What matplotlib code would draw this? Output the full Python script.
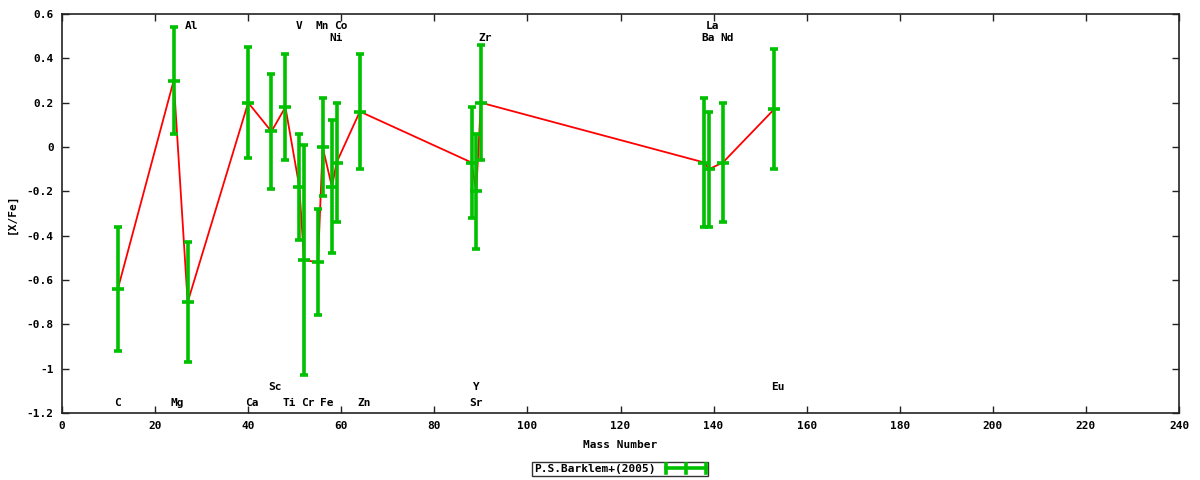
import matplotlib
matplotlib.use("Agg")
import matplotlib.pyplot as plt
import matplotlib.transforms as mtransforms
from matplotlib.legend_handler import HandlerBase
from matplotlib.lines import Line2D

# abundance data, [X/Fe] vs mass number
elements = ["C", "Mg", "Al", "Ca", "Sc", "Ti", "V", "Cr", "Mn", "Fe",
            "Ni", "Co", "Zn", "Sr", "Y", "Zr", "Ba", "La", "Nd", "Eu"]
mass = [12, 24, 27, 40, 45, 48, 51, 52, 55, 56,
        58, 59, 64, 88, 89, 90, 138, 139, 142, 153]
xfe = [-0.64, 0.30, -0.70, 0.20, 0.07, 0.18, -0.18, -0.51, -0.52, 0.00,
       -0.18, -0.07, 0.16, -0.07, -0.20, 0.20, -0.07, -0.10, -0.07, 0.17]
err = [0.28, 0.24, 0.27, 0.25, 0.26, 0.24, 0.24, 0.52, 0.24, 0.22,
       0.30, 0.27, 0.26, 0.25, 0.26, 0.26, 0.29, 0.26, 0.27, 0.27]

# element label rows (0 = top, 1 = second, 2 = lower upper, 3 = bottom)
label_row = {"Al": 0, "V": 0, "Mn": 0, "Co": 0, "La": 0,
             "Ni": 1, "Zr": 1, "Ba": 1, "Nd": 1,
             "Sc": 2, "Y": 2, "Eu": 2,
             "C": 3, "Mg": 3, "Ca": 3, "Ti": 3, "Cr": 3, "Fe": 3, "Zn": 3, "Sr": 3}
row_y = [0.546, 0.492, -1.082, -1.155]

GREEN = "#00c000"
FONT = dict(family="DejaVu Sans Mono", weight="bold", size=8)


class HandlerHBar(HandlerBase):
    # gnuplot-like horizontal errorbar key sample
    def create_artists(self, legend, orig, xd, yd, w, h, fs, trans):
        y = h / 2 - yd
        x0, x1 = -xd, -xd + w
        arts = [Line2D([x0, x1], [y, y], color=GREEN, lw=2.6)]
        for xx in (x0, (x0 + x1) / 2, x1):
            arts.append(Line2D([xx, xx], [y - 3.2, y + 3.2], color=GREEN, lw=2.6))
        for a in arts:
            a.set_transform(trans)
        return arts


fig = plt.figure(figsize=(12, 4.8), dpi=100)
ax = fig.add_axes([62 / 1200, 1 - 413 / 480, (1179 - 62) / 1200, (413 - 14) / 480])

ax.plot(mass, xfe, color="red", lw=1.3, zorder=2)
eb = ax.errorbar(mass, xfe, yerr=err, fmt="_", color=GREEN, ecolor=GREEN,
                 elinewidth=2.6, capsize=3.2, capthick=2.6, markersize=9,
                 markeredgewidth=2.6, zorder=3, label="P.S.Barklem+(2005)")

for name, m in zip(elements, mass):
    off = mtransforms.offset_copy(ax.transData, fig=fig, x=4.0 * (len(name) - 1), y=0, units="dots")
    ax.text(m, row_y[label_row[name]], name, ha="center", va="center",
            transform=off, **FONT)

ax.set_xlim(0, 240)
ax.set_ylim(-1.2, 0.6)
ax.set_xticks(range(0, 241, 20))
ax.set_yticks([-1.2, -1.0, -0.8, -0.6, -0.4, -0.2, 0, 0.2, 0.4, 0.6])
ax.set_yticklabels(["-1.2", "-1", "-0.8", "-0.6", "-0.4", "-0.2", "0", "0.2", "0.4", "0.6"])
ax.tick_params(direction="in", length=5, width=1, top=True, right=True, pad=6, color="#222222")
for lab in ax.get_xticklabels() + ax.get_yticklabels():
    lab.set_fontfamily(FONT["family"])
    lab.set_fontweight("bold")
    lab.set_fontsize(8)
for s in ax.spines.values():
    s.set_linewidth(1.2)
    s.set_color("#222222")

ax.set_xlabel("Mass Number", labelpad=6, **FONT)
ax.set_ylabel("[X/Fe]", labelpad=7, **FONT)

leg = fig.legend([eb], ["P.S.Barklem+(2005)"], handler_map={type(eb): HandlerHBar()},
                 loc="center", bbox_to_anchor=(620 / 1200, 1 - 469 / 480),
                 markerfirst=False, frameon=True, fancybox=False, prop=FONT,
                 handlelength=3.6, handletextpad=1.0, borderpad=0.15, borderaxespad=0)
leg.get_frame().set_edgecolor("black")
leg.get_frame().set_linewidth(1.0)

fig.savefig("out.png", dpi=100)
